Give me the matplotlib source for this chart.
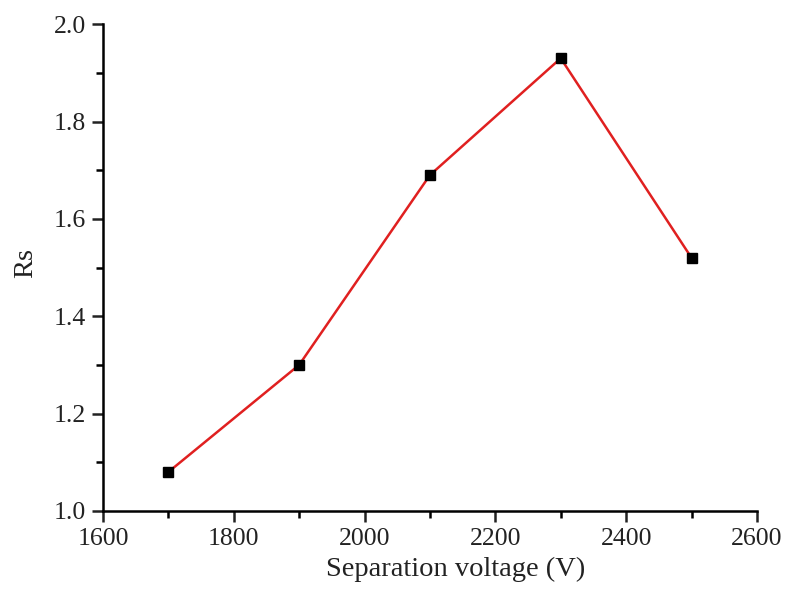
import matplotlib
matplotlib.use("Agg")
import matplotlib.pyplot as plt
from matplotlib.ticker import MultipleLocator

plt.rcParams['font.family'] = ['Liberation Serif', 'DejaVu Serif']

voltage = [1700, 1900, 2100, 2300, 2500]
rs = [1.08, 1.30, 1.69, 1.93, 1.52]

fig = plt.figure(figsize=(7.86, 5.9), dpi=100)
ax = fig.add_axes([0.131, 0.134, 0.832, 0.825])

ax.plot(voltage, rs, color='#e02020', lw=1.8, zorder=2)
ax.plot(voltage, rs, ls='none', marker='s', ms=6.5, color='black', zorder=3)

ax.set_xlim(1600, 2600)
ax.set_ylim(1.0, 2.0)
ax.xaxis.set_major_locator(MultipleLocator(200))
ax.xaxis.set_minor_locator(MultipleLocator(100))
ax.yaxis.set_major_locator(MultipleLocator(0.2))
ax.yaxis.set_minor_locator(MultipleLocator(0.1))
ax.yaxis.set_major_formatter(plt.FormatStrFormatter('%.1f'))

for s in ['top', 'right']:
    ax.spines[s].set_visible(False)
for s in ['left', 'bottom']:
    ax.spines[s].set_linewidth(1.8)

ax.tick_params(which='major', direction='out', length=8, width=1.8, labelsize=18.5,
               colors='#222222', pad=4)
ax.tick_params(which='minor', direction='out', length=5, width=1.8)

ax.set_xlabel('Separation voltage (V)', fontsize=20.5, color='#222222')
ax.xaxis.set_label_coords(0.54, -0.095)
ax.set_ylabel('Rs', fontsize=20.5, color='#222222')
ax.yaxis.set_label_coords(-0.099, 0.51)

fig.savefig('out.png', dpi=100)
